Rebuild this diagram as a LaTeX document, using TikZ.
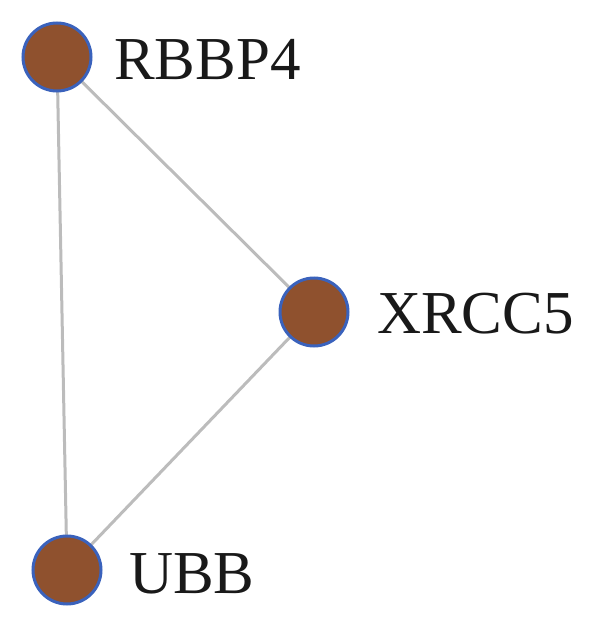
\documentclass[tikz,border=0pt]{standalone}
\usepackage{fontspec}
\setmainfont{Liberation Serif}
\definecolor{nodefill}{RGB}{143,81,46}
\definecolor{nodeline}{RGB}{58,98,188}
\definecolor{edgecol}{RGB}{188,188,188}
\tikzset{
  gene/.style={circle,fill=nodefill,draw=nodeline,line width=3pt,minimum size=68pt,inner sep=0pt},
  glabel/.style={anchor=base west,inner sep=0pt,font=\fontsize{61}{61}\selectfont,text=black!90},
  edge/.style={draw=edgecol,line width=3pt}
}
\begin{document}
\begin{tikzpicture}[x=1pt,y=-1pt]
\useasboundingbox (0,0) rectangle (600,631);
\coordinate (rc) at (57,57);
\coordinate (xc) at (314,312);
\coordinate (uc) at (67,570);
\path[edge] (rc) -- (xc);
\path[edge] (rc) -- (uc);
\path[edge] (xc) -- (uc);
\node[gene] (r) at (rc) {};
\node[gene] (x) at (xc) {};
\node[gene] (u) at (uc) {};
\node[glabel] (rl) at (114,80) {RBBP4};
\node[glabel] (xl) at (377,333) {XRCC5};
\node[glabel] (ul) at (129,593) {UBB};
\end{tikzpicture}
\end{document}
